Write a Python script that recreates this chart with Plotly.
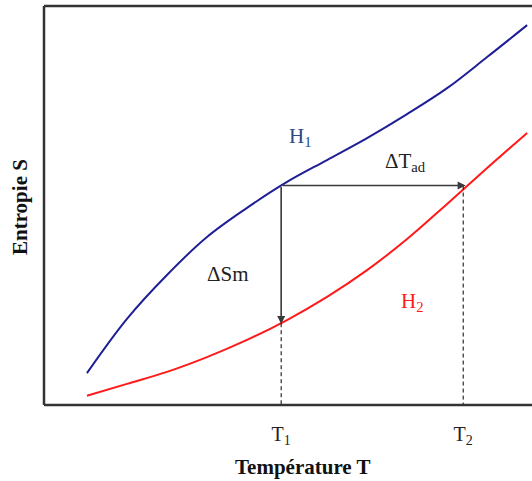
import plotly.graph_objects as go

# Curve H1 (blue) and H2 (red), arbitrary units
T_h1 = [0.88, 1.70, 2.52, 3.34, 4.16, 4.98, 5.80, 6.62, 7.44, 8.26, 9.08, 9.90]
S_h1 = [0.80, 2.16, 3.26, 4.21, 4.94, 5.59, 6.14, 6.69, 7.29, 7.94, 8.72, 9.52]
T_h2 = [0.88, 1.70, 2.52, 3.34, 4.16, 4.98, 5.80, 6.62, 7.44, 8.26, 9.08, 9.90]
S_h2 = [0.23, 0.53, 0.83, 1.20, 1.63, 2.13, 2.71, 3.38, 4.16, 5.04, 5.94, 6.82]

T1 = 4.86
T2 = 8.59
S_T1_H1 = 5.50
S_T1_H2 = 2.05

tick_vals = [T1, T2]
tick_text = ["T<sub>1</sub>", "T<sub>2</sub>"]

FONT = "Liberation Serif, Times New Roman, serif"
BLUE = "#1f1f95"
RED = "#ff1a1a"
GRAY = "#3a3a3a"

fig = go.Figure()
fig.add_trace(go.Scatter(x=T_h1, y=S_h1, mode="lines",
                         line=dict(color=BLUE, width=2, shape="spline", smoothing=1), hoverinfo="skip"))
fig.add_trace(go.Scatter(x=T_h2, y=S_h2, mode="lines",
                         line=dict(color=RED, width=2, shape="spline", smoothing=1), hoverinfo="skip"))
# dashed drop lines
fig.add_trace(go.Scatter(x=[T1, T1], y=[S_T1_H2, 0], mode="lines", line=dict(color="black", width=1, dash="4px,3px"), hoverinfo="skip"))
fig.add_trace(go.Scatter(x=[T2, T2], y=[S_T1_H1, 0], mode="lines", line=dict(color="black", width=1, dash="4px,3px"), hoverinfo="skip"))

# arrows
fig.add_annotation(x=T2 + 0.05, y=S_T1_H1, ax=T1, ay=S_T1_H1, xref="x", yref="y", axref="x", ayref="y",
                   showarrow=True, arrowhead=2, arrowsize=1, arrowwidth=1.6, arrowcolor=GRAY, text="")
fig.add_annotation(x=T1, y=S_T1_H2 - 0.02, ax=T1, ay=S_T1_H1, xref="x", yref="y", axref="x", ayref="y",
                   showarrow=True, arrowhead=2, arrowsize=1, arrowwidth=1.6, arrowcolor=GRAY, text="")

# labels
LBL = 21
fig.add_annotation(x=5.25, y=6.72, text="H<sub>1</sub>", showarrow=False, font=dict(family=FONT, size=LBL, color="#2b4a82"))
fig.add_annotation(x=7.40, y=6.09, text="ΔT<sub>ad</sub>", showarrow=False, font=dict(family=FONT, size=LBL, color="#222222"))
fig.add_annotation(x=3.77, y=3.28, text="ΔSm", showarrow=False, font=dict(family=FONT, size=LBL, color="#222222"))
fig.add_annotation(x=7.56, y=2.58, text="H<sub>2</sub>", showarrow=False, font=dict(family=FONT, size=LBL, color=RED))

# axis titles
fig.add_annotation(x=(303 - 44) / 488, y=-(467 - 405) / 399, xref="paper", yref="paper", text="<b>Température T</b>",
                   showarrow=False, yanchor="middle", font=dict(family=FONT, size=21, color="#111111"))
fig.add_annotation(x=-(44 - 20) / 488, y=(405 - 207) / 399, xref="paper", yref="paper", text="<b>Entropie S</b>", textangle=-90,
                   showarrow=False, xanchor="center", yanchor="middle", font=dict(family=FONT, size=21, color="#111111"))

# frame: left, top, bottom
for (x0, y0, x1, y1) in [(0, 0, 0, 1), (0, 1, 1, 1), (0, 0, 1, 0)]:
    fig.add_shape(type="line", xref="paper", yref="paper", x0=x0, y0=y0, x1=x1, y1=y1,
                  line=dict(color="#333333", width=2.5))

fig.update_layout(
    width=532, height=481,
    margin=dict(l=44, r=0, t=6, b=76),
    paper_bgcolor="white", plot_bgcolor="white",
    showlegend=False,
    xaxis=dict(range=[0, 10], showgrid=False, zeroline=False, showline=False,
               tickvals=tick_vals, ticktext=tick_text, ticks="", ticklabelstandoff=15,
               tickfont=dict(family=FONT, size=20, color="#222222")),
    yaxis=dict(range=[0, 10], showgrid=False, zeroline=False, showline=False, showticklabels=False, ticks=""),
)

fig.write_html("out.html", config={"displayModeBar": False},
               post_script="document.body.style.margin='0';document.body.style.overflow='hidden';")
